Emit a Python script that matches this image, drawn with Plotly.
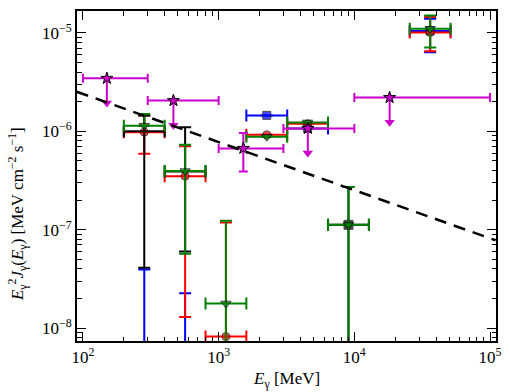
import plotly.graph_objects as go

# ---------------- data ----------------
E_c  = [283, 566, 1131, 2263, 4525, 9051, 36204]
E_lo = [200, 400, 800, 1600, 3200, 6400, 25600]
E_hi = [400, 800, 1600, 3200, 6400, 12800, 51200]

red_val = [9.8e-7, 3.5e-7, 8.2e-9, 9.2e-7, 1.19e-6, None, 1.01e-5]
red_lo  = [5.9e-7, 1.3e-8, 1e-10, 9.2e-7, 1.19e-6, None, 6.5e-6]
red_hi  = [1.45e-6, 7.05e-7, 1.18e-7, 9.2e-7, 1.19e-6, None, 1.45e-5]

green_val = [1.14e-6, 3.94e-7, 1.78e-8, 8.8e-7, 1.23e-6, 1.12e-7, 1.10e-5]
green_lo  = [1.14e-6, 5.7e-8, 1e-10, 8.8e-7, 1.23e-6, 1e-10, 7.1e-6]
green_hi  = [1.5e-6, 7.3e-7, 1.23e-7, 8.8e-7, 1.23e-6, 2.72e-7, 1.5e-5]

blue_val = [1e-9, 1e-9, None, 1.45e-6, 1.07e-6, None, 1.047e-5]
blue_lo  = [1e-9, 1e-9, None, 1.45e-6, 1.07e-6, None, 6.35e-6]
blue_hi  = [3.94e-8, 2.26e-8, None, 1.45e-6, 1.07e-6, None, 1.39e-5]

black_val = [1.0e-6, 3.9e-7, None, None, None, 1.12e-7, None]
black_lo  = [4.1e-8, 6.0e-8, None, None, None, 1e-10, None]
black_hi  = [1.45e-6, 1.1e-6, None, None, None, 2.72e-7, None]
black_has_marker = [False, False, False, False, False, True, False]

# magenta points (upper limits except one)
mag_E    = [150, 464, 1520, 4540, 18200]
mag_E_lo = [100, 300, 1000, 3000, 10000]
mag_E_hi = [300, 1000, 3000, 10000, 100000]
mag_F    = [3.45e-6, 2.05e-6, 6.7e-7, 1.07e-6, 2.2e-6]
mag_F_lo = [None, None, 3.9e-7, None, None]
mag_F_hi = [None, None, 9.6e-7, None, None]
mag_is_ul = [True, True, False, True, True]

# dashed power-law reference line (end points)
line_E = [90, 110000]
line_F = [2.52e-6, 7.8e-8]

x_ticks = [1e2, 1e3, 1e4, 1e5]
x_ticktext = ["10<sup>2</sup>", "10<sup>3</sup>", "10<sup>4</sup>", "10<sup>5</sup>"]
y_ticks = [1e-8, 1e-7, 1e-6, 1e-5]
y_ticktext = ["10<sup>\u22128</sup>", "10<sup>\u22127</sup>", "10<sup>\u22126</sup>", "10<sup>\u22125</sup>"]

# ---------------- figure ----------------
RED, GREEN, BLUE, BLACK, MAG = "#ff0000", "#008000", "#0000ff", "#000000", "#cc00cc"
fig = go.Figure()


def series(val, lo, hi, color, symbol, size, marker_flags=None):
    idx = [i for i, v in enumerate(val) if v is not None]
    xs = [E_c[i] for i in idx]
    ys = [val[i] for i in idx]
    sizes = [size if (marker_flags is None or marker_flags[i]) else 0 for i in idx]
    fig.add_trace(go.Scatter(
        x=xs, y=ys, mode="markers",
        marker=dict(symbol=symbol, size=sizes, color=color,
                    line=dict(color="black", width=1)),
        error_x=dict(type="data", symmetric=False,
                     array=[E_hi[i] - E_c[i] for i in idx],
                     arrayminus=[E_c[i] - E_lo[i] for i in idx],
                     color=color, thickness=2, width=6),
        error_y=dict(type="data", symmetric=False,
                     array=[hi[i] - val[i] for i in idx],
                     arrayminus=[val[i] - lo[i] for i in idx],
                     color=color, thickness=2, width=6),
        showlegend=False, hoverinfo="skip"))


series(blue_val, blue_lo, blue_hi, BLUE, "square", 8)
series(red_val, red_lo, red_hi, RED, "circle", 8)
series(black_val, black_lo, black_hi, BLACK, "square", 9, black_has_marker)
series(green_val, green_lo, green_hi, GREEN, "triangle-down", 9)

# magenta upper limits
ul_drop = 10 ** -0.25
ul = [i for i in range(len(mag_E)) if mag_is_ul[i]]
fig.add_trace(go.Scatter(
    x=[mag_E[i] for i in ul], y=[mag_F[i] * ul_drop for i in ul], mode="markers",
    marker=dict(symbol="triangle-down", size=9, color=MAG, line=dict(width=0)),
    showlegend=False, hoverinfo="skip"))
fig.add_trace(go.Scatter(
    x=[mag_E[i] for i in ul], y=[mag_F[i] for i in ul], mode="markers",
    marker=dict(symbol="star", size=9, color=MAG, line=dict(color="black", width=1)),
    error_x=dict(type="data", symmetric=False,
                 array=[mag_E_hi[i] - mag_E[i] for i in ul],
                 arrayminus=[mag_E[i] - mag_E_lo[i] for i in ul],
                 color=MAG, thickness=2, width=4.5),
    error_y=dict(type="data", symmetric=False,
                 array=[0 for i in ul],
                 arrayminus=[mag_F[i] - mag_F[i] * ul_drop for i in ul],
                 color=MAG, thickness=2, width=0),
    showlegend=False, hoverinfo="skip"))
det = [i for i in range(len(mag_E)) if not mag_is_ul[i]]
fig.add_trace(go.Scatter(
    x=[mag_E[i] for i in det], y=[mag_F[i] for i in det], mode="markers",
    marker=dict(symbol="star", size=9, color=MAG, line=dict(color="black", width=1)),
    error_x=dict(type="data", symmetric=False,
                 array=[mag_E_hi[i] - mag_E[i] for i in det],
                 arrayminus=[mag_E[i] - mag_E_lo[i] for i in det],
                 color=MAG, thickness=2, width=4.5),
    error_y=dict(type="data", symmetric=False,
                 array=[mag_F_hi[i] - mag_F[i] for i in det],
                 arrayminus=[mag_F[i] - mag_F_lo[i] for i in det],
                 color=MAG, thickness=2, width=4.5),
    showlegend=False, hoverinfo="skip"))

# dashed line
fig.add_trace(go.Scatter(x=line_E, y=line_F, mode="lines",
                         line=dict(color="black", width=2.5, dash="12px,8px"),
                         showlegend=False, hoverinfo="skip"))

FONT = "Liberation Serif"
x_minor = [m * 10 ** d for d in range(1, 6) for m in range(2, 10)]
y_minor = [m * 10 ** d for d in range(-9, -4) for m in range(2, 10)]

axis_common = dict(type="log", showgrid=False, zeroline=False, showline=True,
                   linecolor="black", linewidth=2, mirror="allticks",
                   ticks="inside", ticklen=9, tickwidth=1.3, tickcolor="black",
                   tickfont=dict(family=FONT, size=17, color="black"))

fig.update_layout(
    width=510, height=392,
    margin=dict(l=77, r=10, t=9, b=51),
    paper_bgcolor="white", plot_bgcolor="white",
    font=dict(family=FONT, size=17, color="black"),
    xaxis=dict(**axis_common, range=[1.956, 5.044], tickmode="array",
               tickvals=x_ticks, ticktext=x_ticktext,
               minor=dict(tickmode="array", tickvals=x_minor, ticks="inside",
                          ticklen=4.5, tickwidth=1, tickcolor="black", showgrid=False)),
    yaxis=dict(**axis_common, range=[-8.131, -4.778], tickmode="array",
               tickvals=y_ticks, ticktext=y_ticktext,
               minor=dict(tickmode="array", tickvals=y_minor, ticks="inside",
                          ticklen=4.5, tickwidth=1, tickcolor="black", showgrid=False)),
    annotations=[
        dict(text="<i>E</i><sub>\u03b3</sub> [MeV]", xref="paper", yref="paper",
             x=0.499, y=-0.117, xanchor="center", yanchor="middle", showarrow=False,
             font=dict(family=FONT, size=17)),
        dict(text="<i>E</i><sub>\u03b3</sub><sup>2</sup><i>J</i><sub>\u03b3</sub>(<i>E</i><sub>\u03b3</sub>) [MeV cm<sup>\u22122</sup> s<sup>\u22121</sup>]",
             xref="paper", yref="paper", x=-0.142, y=0.383, xanchor="center",
             yanchor="middle", textangle=-90, showarrow=False,
             font=dict(family=FONT, size=17)),
    ],
)

fig.write_html("out.html")
